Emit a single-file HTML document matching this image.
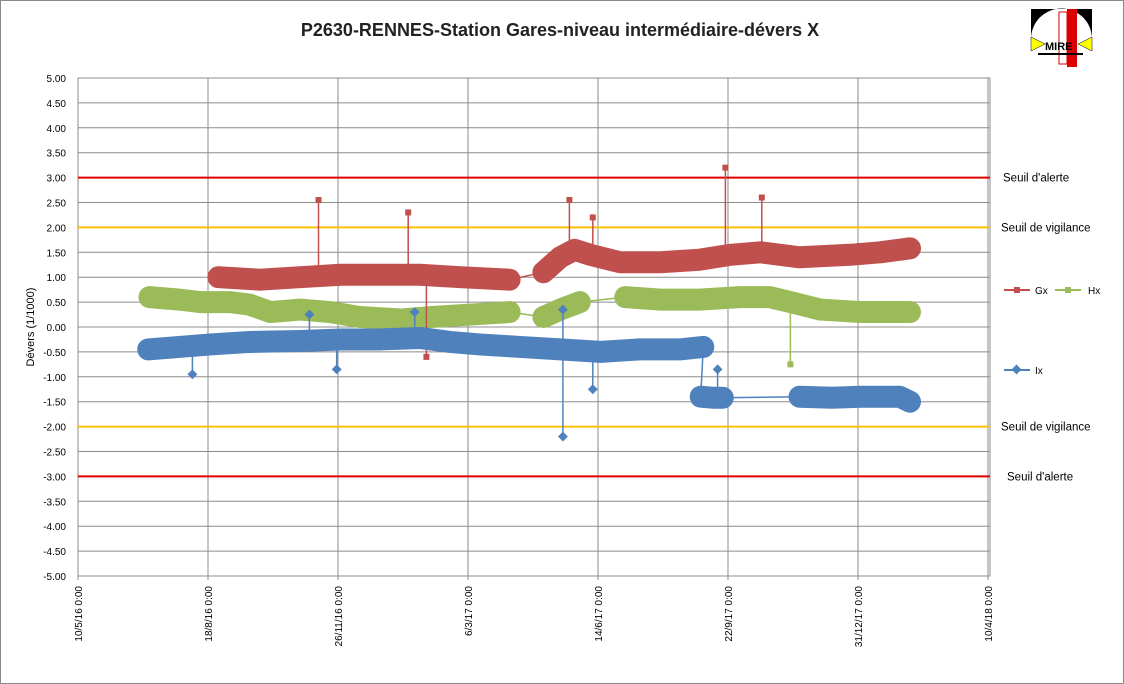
<!DOCTYPE html>
<html><head><meta charset="utf-8"><style>
body{margin:0;background:#fff}
svg{display:block;font-family:"Liberation Sans",sans-serif}
</style></head><body>
<svg id="c" width="1124" height="684">
<rect x="0.5" y="0.5" width="1123" height="683" fill="#fff" stroke="#888"/>
<text x="560" y="36" text-anchor="middle" font-size="18" font-weight="bold" fill="#222">P2630-RENNES-Station Gares-niveau intermédiaire-dévers X</text>
<g>
<rect x="1031" y="9" width="61" height="58" fill="#fff"/>
<path d="M1031 9 h61 v30 a30 30 0 0 0 -61 0 z" fill="#000"/>
<rect x="1067" y="9" width="10" height="58" fill="#d00"/>
<rect x="1059" y="12" width="8" height="52" fill="#fff" stroke="#d00"/>
<polygon points="1031,37 1045,44 1031,51" fill="#ff0" stroke="#000" stroke-width="0.5"/>
<polygon points="1092,37 1078,44 1092,51" fill="#ff0" stroke="#000" stroke-width="0.5"/>
<text x="1045" y="50" font-size="11" font-weight="bold" fill="#000">MIRE</text>
<rect x="1038" y="53" width="45" height="2" fill="#000"/>
</g>
<text transform="translate(34,327) rotate(-90)" text-anchor="middle" font-size="11" fill="#000">Dévers (1/1000)</text>
<g id="grid"></g><g id="thr"></g><g id="series"></g><g id="axes"></g>
<g>
<line x1="1004" y1="290" x2="1030" y2="290" stroke="#c0504d" stroke-width="2"/><rect x="1014" y="287" width="6" height="6" fill="#c0504d"/>
<text x="1035" y="294" font-size="10">Gx</text>
<line x1="1055" y1="290" x2="1081" y2="290" stroke="#9bbb59" stroke-width="2"/><rect x="1065" y="287" width="6" height="6" fill="#9bbb59"/>
<text x="1088" y="294" font-size="10">Hx</text>
<line x1="1004" y1="370" x2="1030" y2="370" stroke="#4f81bd" stroke-width="2"/><rect x="1013" y="366" width="7" height="7" fill="#4f81bd" transform="rotate(45 1016.5 369.5)"/>
<text x="1035" y="374" font-size="10">Ix</text>
</g>
</svg>
<script>
const yTicks=[5,4.5,4,3.5,3,2.5,2,1.5,1,0.5,0,-0.5,-1,-1.5,-2,-2.5,-3,-3.5,-4,-4.5,-5];
const xTickLabels=["10/5/16 0:00","18/8/16 0:00","26/11/16 0:00","6/3/17 0:00","14/6/17 0:00","22/9/17 0:00","31/12/17 0:00","10/4/18 0:00"];
const xTickDays=[0,100,200,300,400,500,600,700];
const thresholds=[3,2,-2,-3];
const thresholdLabels=["Seuil d'alerte","Seuil de vigilance","Seuil de vigilance","Seuil d'alerte"];
// series: day offsets from 10/5/16, null = gap
const ixDays=[54,78,102,132,171,202,232,263,286,309,340,371,402,432,463,481,null,479,488,496,null,555,580,602,632,640];
const ixVals=[-0.45,-0.4,-0.35,-0.3,-0.28,-0.25,-0.25,-0.22,-0.3,-0.35,-0.4,-0.45,-0.5,-0.45,-0.45,-0.4,null,-1.4,-1.42,-1.42,null,-1.4,-1.42,-1.4,-1.4,-1.5];
const gxDays=[108,140,171,202,232,263,294,332,null,358,371,382,394,417,448,478,502,525,555,594,617,640];
const gxVals=[1.0,0.95,1.0,1.05,1.05,1.05,1.0,0.95,null,1.1,1.4,1.55,1.45,1.3,1.3,1.35,1.45,1.5,1.4,1.45,1.5,1.58];
const hxDays=[55,78,94,117,132,148,171,194,217,248,271,302,332,null,358,371,386,null,421,448,478,509,532,548,571,602,640];
const hxVals=[0.6,0.55,0.5,0.5,0.45,0.3,0.35,0.3,0.2,0.15,0.2,0.25,0.3,null,0.2,0.35,0.5,null,0.6,0.55,0.55,0.6,0.6,0.5,0.35,0.3,0.3];
const gxSpikeDays=[185,254,378,396,498,526,268];
const gxSpikeVals=[2.55,2.3,2.55,2.2,3.2,2.6,-0.6];
const ixSpikeDays=[88,373,373,396,259,178,492,199];
const ixSpikeVals=[-0.95,-2.2,0.35,-1.25,0.3,0.25,-0.85,-0.85];
const hxSpikeDays=[548];
const hxSpikeVals=[-0.75];

const NS="http://www.w3.org/2000/svg";
const X0=78,X1=990,Y0=78,Y1=576;
const xs=d=>X0+d*(X1-X0)/700*0.9978;
const ys=v=>Y0+(5-v)*(Y1-Y0)/10;
function mk(tag,attrs,parent){const e=document.createElementNS(NS,tag);for(const k in attrs)e.setAttribute(k,attrs[k]);parent.appendChild(e);return e;}
const grid=document.getElementById('grid'),thr=document.getElementById('thr'),ser=document.getElementById('series'),axes=document.getElementById('axes');
yTicks.forEach(v=>{
  const l=mk('line',{x1:X0,x2:X1,y1:ys(v),y2:ys(v),stroke:'#8c8c8c','stroke-width':1},grid);
  
  
  const t=mk('text',{x:X0-12,y:ys(v)+4,'text-anchor':'end','font-size':10},axes);
  t.textContent=v.toFixed(2);
  
  
});
xTickDays.forEach((d,i)=>{
  const l=mk('line',{x1:xs(d),x2:xs(d),y1:Y0,y2:Y1+4,stroke:'#8c8c8c','stroke-width':1},grid);
  
  
  const t=mk('text',{transform:`translate(${xs(d)+4},${Y1+10}) rotate(-90)`,'text-anchor':'end','font-size':10},axes);
  t.textContent=xTickLabels[i];
  
  
});
mk('rect',{x:X0,y:Y0,width:X1-X0,height:Y1-Y0,fill:'none',stroke:'#8c8c8c'},grid);
const thrCol=['#e00000','#ffc000','#ffc000','#e00000'];
const thrLX=[1003,1001,1001,1007];
thresholds.forEach((v,i)=>{
  const l=mk('line',{x1:X0,x2:X1,y1:ys(v),y2:ys(v),stroke:thrCol[i],'stroke-width':2},thr);
  
  
  const t=mk('text',{x:thrLX[i],y:ys(v)+4,'font-size':11.5},thr);
  t.textContent=thresholdLabels[i];
  
  
});
function draw(days,vals,sd,sv,col,name,diamond){
  const g=mk('g',{},ser);
  
  
  sd.forEach((d,i)=>{
    const base=interp(days,vals,d);
    mk('line',{x1:xs(d),x2:xs(d),y1:ys(base),y2:ys(sv[i]),stroke:col,'stroke-width':1.5},g);
    if(diamond)mk('rect',{x:xs(d)-3.5,y:ys(sv[i])-3.5,width:7,height:7,fill:col,transform:`rotate(45 ${xs(d)} ${ys(sv[i])})`},g);
    else mk('rect',{x:xs(d)-3,y:ys(sv[i])-3,width:6,height:6,fill:col},g);
  });
  const pts=[];days.forEach((d,i)=>{if(d!==null)pts.push(xs(d)+','+ys(vals[i]));});
  mk('polyline',{points:pts.join(' '),fill:'none',stroke:col,'stroke-width':1.5},g);
  let seg=[];
  const flush=()=>{if(seg.length){mk('polyline',{points:seg.join(' '),fill:'none',stroke:col,'stroke-width':22,'stroke-linejoin':'round','stroke-linecap':'round'},g);}seg=[];};
  days.forEach((d,i)=>{if(d===null)flush();else seg.push(xs(d)+','+ys(vals[i]));});
  flush();
}
function interp(days,vals,d){let best=0,bd=1e9;days.forEach((x,i)=>{if(x!==null&&Math.abs(x-d)<bd){bd=Math.abs(x-d);best=vals[i];}});return best;}
draw(hxDays,hxVals,hxSpikeDays,hxSpikeVals,'#9bbb59','hx',false);
draw(gxDays,gxVals,gxSpikeDays,gxSpikeVals,'#c0504d','gx',false);
draw(ixDays,ixVals,ixSpikeDays,ixSpikeVals,'#4f81bd','ix',true);
</script>
</body></html>
